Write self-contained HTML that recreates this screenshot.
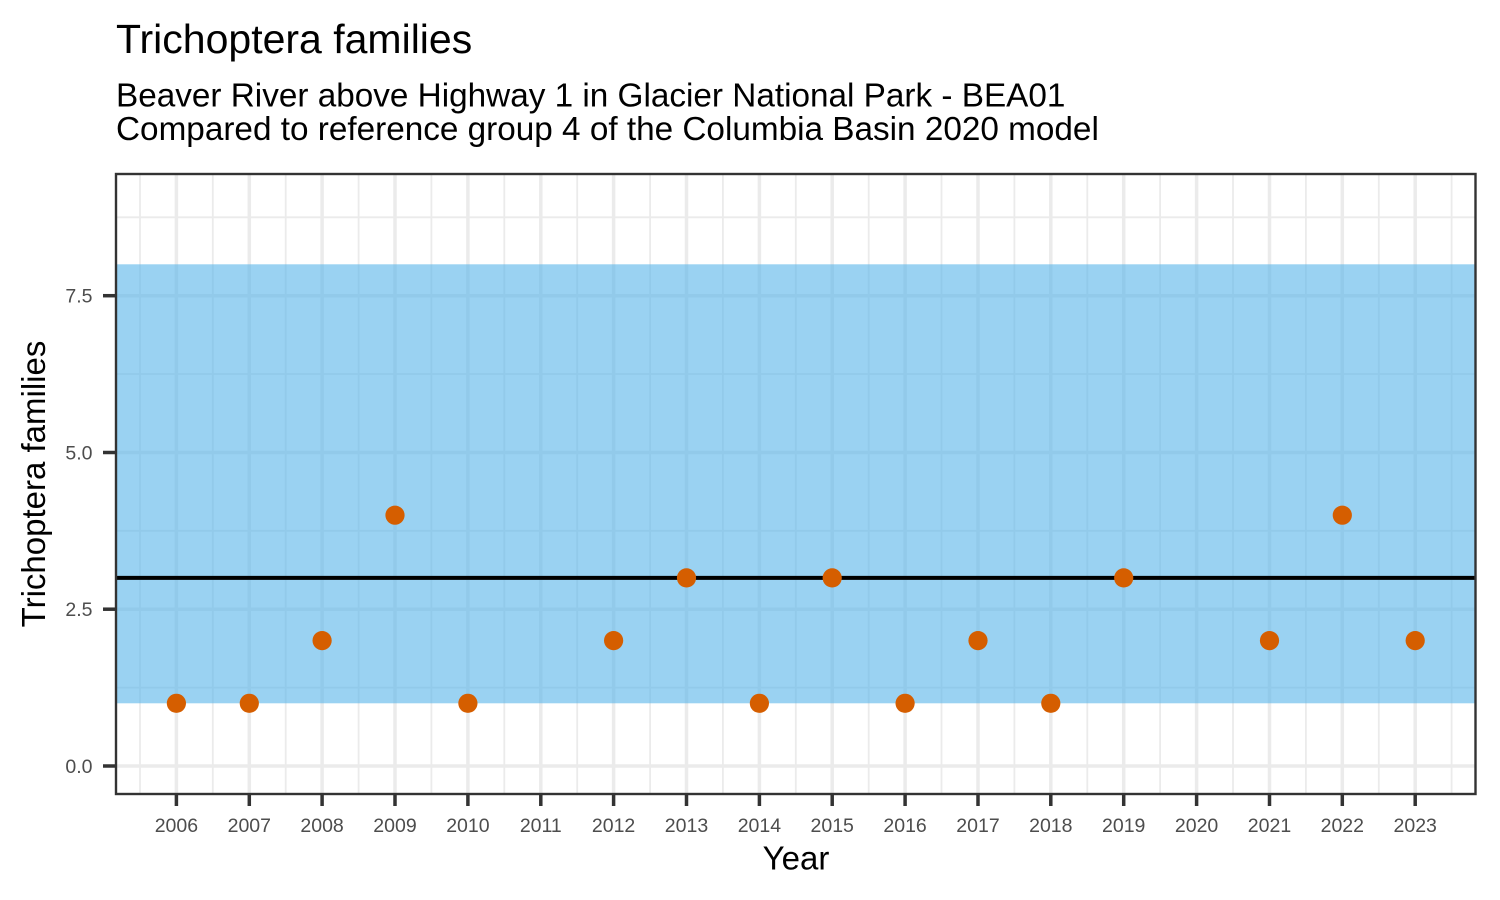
<!DOCTYPE html>
<html>
<head>
<meta charset="utf-8">
<style>
  html, body { margin: 0; padding: 0; background: #ffffff; }
  svg { display: block; }
  text { font-family: "Liberation Sans", Arial, sans-serif; }
</style>
</head>
<body>
<svg width="1500" height="900" viewBox="0 0 1500 900" xmlns="http://www.w3.org/2000/svg">
  <rect x="0" y="0" width="1500" height="900" fill="#ffffff"/>

  <!-- Titles -->
  <text x="116" y="53" font-size="41" fill="#000000">Trichoptera families</text>
  <text x="116" y="106.7" font-size="33.3" fill="#000000">Beaver River above Highway 1 in Glacier National Park - BEA01</text>
  <text x="116" y="140" font-size="33.3" fill="#000000">Compared to reference group 4 of the Columbia Basin 2020 model</text>

  <!-- Panel background -->
  <rect x="116" y="174" width="1359.5" height="620" fill="#ffffff"/>

  <!-- Minor horizontal gridlines -->
  <g stroke="#EBEBEB" stroke-width="1.8">
    <line x1="116" x2="1475.5" y1="687.6" y2="687.6"/>
    <line x1="116" x2="1475.5" y1="530.8" y2="530.8"/>
    <line x1="116" x2="1475.5" y1="374.0" y2="374.0"/>
    <line x1="116" x2="1475.5" y1="217.3" y2="217.3"/>
  </g>
  <!-- Minor vertical gridlines (half years) -->
  <g stroke="#EBEBEB" stroke-width="1.8">
    <line y1="174" y2="794" x1="140.0" x2="140.0"/>
    <line y1="174" y2="794" x1="212.8" x2="212.8"/>
    <line y1="174" y2="794" x1="285.7" x2="285.7"/>
    <line y1="174" y2="794" x1="358.6" x2="358.6"/>
    <line y1="174" y2="794" x1="431.4" x2="431.4"/>
    <line y1="174" y2="794" x1="504.3" x2="504.3"/>
    <line y1="174" y2="794" x1="577.2" x2="577.2"/>
    <line y1="174" y2="794" x1="650.1" x2="650.1"/>
    <line y1="174" y2="794" x1="722.9" x2="722.9"/>
    <line y1="174" y2="794" x1="795.8" x2="795.8"/>
    <line y1="174" y2="794" x1="868.7" x2="868.7"/>
    <line y1="174" y2="794" x1="941.5" x2="941.5"/>
    <line y1="174" y2="794" x1="1014.4" x2="1014.4"/>
    <line y1="174" y2="794" x1="1087.3" x2="1087.3"/>
    <line y1="174" y2="794" x1="1160.1" x2="1160.1"/>
    <line y1="174" y2="794" x1="1233.0" x2="1233.0"/>
    <line y1="174" y2="794" x1="1305.9" x2="1305.9"/>
    <line y1="174" y2="794" x1="1378.8" x2="1378.8"/>
    <line y1="174" y2="794" x1="1451.6" x2="1451.6"/>
  </g>
  <!-- Major horizontal gridlines -->
  <g stroke="#EBEBEB" stroke-width="3.5">
    <line x1="116" x2="1475.5" y1="766" y2="766"/>
    <line x1="116" x2="1475.5" y1="609.2" y2="609.2"/>
    <line x1="116" x2="1475.5" y1="452.5" y2="452.5"/>
    <line x1="116" x2="1475.5" y1="295.7" y2="295.7"/>
  </g>
  <!-- Major vertical gridlines (years) -->
  <g stroke="#EBEBEB" stroke-width="3.5">
    <line y1="174" y2="794" x1="176.4" x2="176.4"/>
    <line y1="174" y2="794" x1="249.3" x2="249.3"/>
    <line y1="174" y2="794" x1="322.1" x2="322.1"/>
    <line y1="174" y2="794" x1="395.0" x2="395.0"/>
    <line y1="174" y2="794" x1="467.9" x2="467.9"/>
    <line y1="174" y2="794" x1="540.8" x2="540.8"/>
    <line y1="174" y2="794" x1="613.6" x2="613.6"/>
    <line y1="174" y2="794" x1="686.5" x2="686.5"/>
    <line y1="174" y2="794" x1="759.4" x2="759.4"/>
    <line y1="174" y2="794" x1="832.2" x2="832.2"/>
    <line y1="174" y2="794" x1="905.1" x2="905.1"/>
    <line y1="174" y2="794" x1="978.0" x2="978.0"/>
    <line y1="174" y2="794" x1="1050.8" x2="1050.8"/>
    <line y1="174" y2="794" x1="1123.7" x2="1123.7"/>
    <line y1="174" y2="794" x1="1196.6" x2="1196.6"/>
    <line y1="174" y2="794" x1="1269.5" x2="1269.5"/>
    <line y1="174" y2="794" x1="1342.3" x2="1342.3"/>
    <line y1="174" y2="794" x1="1415.2" x2="1415.2"/>
  </g>

  <!-- Reference band (1 to 8) -->
  <rect x="116" y="264.3" width="1359.5" height="439" fill="#56B4E9" fill-opacity="0.6"/>

  <!-- Median line at 3 -->
  <line x1="116" x2="1475.5" y1="577.9" y2="577.9" stroke="#000000" stroke-width="4"/>

  <!-- Points -->
  <g fill="#D55E00">
    <circle cx="176.4" cy="703.3" r="9.6"/>
    <circle cx="249.3" cy="703.3" r="9.6"/>
    <circle cx="322.1" cy="640.6" r="9.6"/>
    <circle cx="395.0" cy="515.2" r="9.6"/>
    <circle cx="467.9" cy="703.3" r="9.6"/>
    <circle cx="613.6" cy="640.6" r="9.6"/>
    <circle cx="686.5" cy="577.9" r="9.6"/>
    <circle cx="759.4" cy="703.3" r="9.6"/>
    <circle cx="832.2" cy="577.9" r="9.6"/>
    <circle cx="905.1" cy="703.3" r="9.6"/>
    <circle cx="978.0" cy="640.6" r="9.6"/>
    <circle cx="1050.8" cy="703.3" r="9.6"/>
    <circle cx="1123.7" cy="577.9" r="9.6"/>
    <circle cx="1269.5" cy="640.6" r="9.6"/>
    <circle cx="1342.3" cy="515.2" r="9.6"/>
    <circle cx="1415.2" cy="640.6" r="9.6"/>
  </g>

  <!-- Panel border -->
  <rect x="116" y="174" width="1359.5" height="620" fill="none" stroke="#333333" stroke-width="2.4"/>

  <!-- Y ticks -->
  <g stroke="#333333" stroke-width="3.5">
    <line x1="103" x2="116" y1="766" y2="766"/>
    <line x1="103" x2="116" y1="609.2" y2="609.2"/>
    <line x1="103" x2="116" y1="452.5" y2="452.5"/>
    <line x1="103" x2="116" y1="295.7" y2="295.7"/>
  </g>
  <g font-size="19.5" fill="#4D4D4D" text-anchor="end">
    <text x="92.5" y="773">0.0</text>
    <text x="92.5" y="616.2">2.5</text>
    <text x="92.5" y="459.5">5.0</text>
    <text x="92.5" y="302.7">7.5</text>
  </g>

  <!-- X ticks -->
  <g stroke="#333333" stroke-width="3.5">
    <line y1="794" y2="806" x1="176.4" x2="176.4"/>
    <line y1="794" y2="806" x1="249.3" x2="249.3"/>
    <line y1="794" y2="806" x1="322.1" x2="322.1"/>
    <line y1="794" y2="806" x1="395.0" x2="395.0"/>
    <line y1="794" y2="806" x1="467.9" x2="467.9"/>
    <line y1="794" y2="806" x1="540.8" x2="540.8"/>
    <line y1="794" y2="806" x1="613.6" x2="613.6"/>
    <line y1="794" y2="806" x1="686.5" x2="686.5"/>
    <line y1="794" y2="806" x1="759.4" x2="759.4"/>
    <line y1="794" y2="806" x1="832.2" x2="832.2"/>
    <line y1="794" y2="806" x1="905.1" x2="905.1"/>
    <line y1="794" y2="806" x1="978.0" x2="978.0"/>
    <line y1="794" y2="806" x1="1050.8" x2="1050.8"/>
    <line y1="794" y2="806" x1="1123.7" x2="1123.7"/>
    <line y1="794" y2="806" x1="1196.6" x2="1196.6"/>
    <line y1="794" y2="806" x1="1269.5" x2="1269.5"/>
    <line y1="794" y2="806" x1="1342.3" x2="1342.3"/>
    <line y1="794" y2="806" x1="1415.2" x2="1415.2"/>
  </g>
  <g font-size="19.5" fill="#4D4D4D" text-anchor="middle">
    <text x="176.4" y="832">2006</text>
    <text x="249.3" y="832">2007</text>
    <text x="322.1" y="832">2008</text>
    <text x="395.0" y="832">2009</text>
    <text x="467.9" y="832">2010</text>
    <text x="540.8" y="832">2011</text>
    <text x="613.6" y="832">2012</text>
    <text x="686.5" y="832">2013</text>
    <text x="759.4" y="832">2014</text>
    <text x="832.2" y="832">2015</text>
    <text x="905.1" y="832">2016</text>
    <text x="978.0" y="832">2017</text>
    <text x="1050.8" y="832">2018</text>
    <text x="1123.7" y="832">2019</text>
    <text x="1196.6" y="832">2020</text>
    <text x="1269.5" y="832">2021</text>
    <text x="1342.3" y="832">2022</text>
    <text x="1415.2" y="832">2023</text>
  </g>

  <!-- Axis titles -->
  <text x="796" y="869.5" font-size="33" fill="#000000" text-anchor="middle">Year</text>
  <text transform="translate(45,484) rotate(-90)" x="0" y="0" font-size="33" fill="#000000" text-anchor="middle">Trichoptera families</text>
</svg>
</body>
</html>
